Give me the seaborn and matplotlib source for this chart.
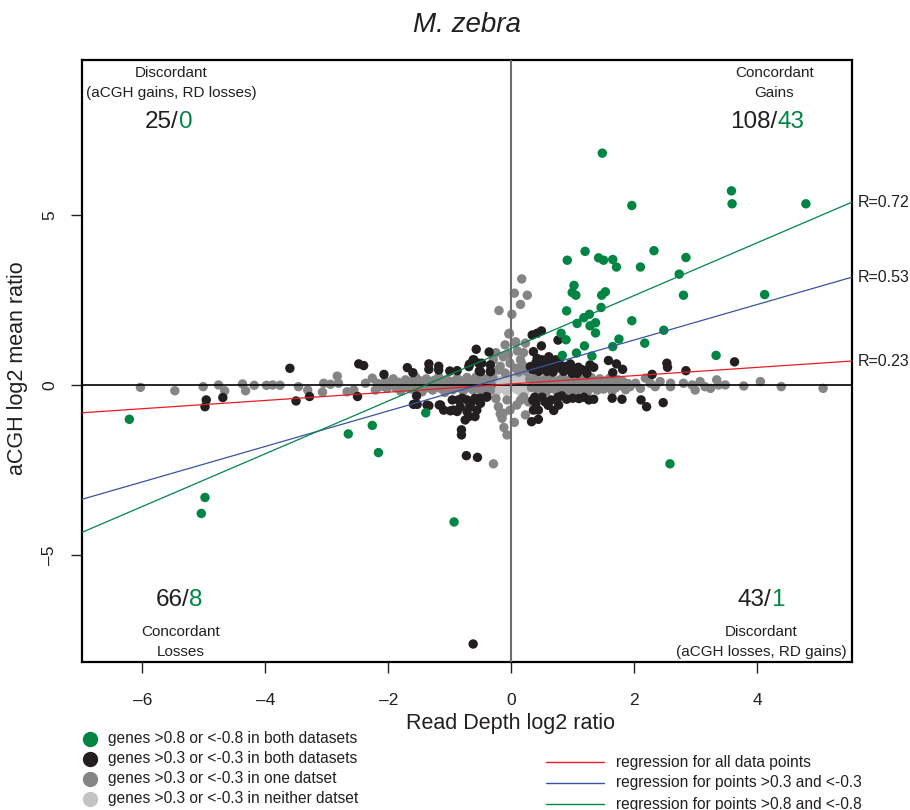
import numpy as np
import pandas as pd
import seaborn as sns
import matplotlib.pyplot as plt
from matplotlib.lines import Line2D
from matplotlib import transforms

sns.set_style("ticks")
plt.rcParams['font.family'] = ['Liberation Sans', 'DejaVu Sans']

# colours
green = "#008542"
black = "#231F20"
gray = "#858585"
lightgray = "#C4C4C4"

# genes >0.8 or <-0.8 in both datasets
green_x = [1.48, 3.58, 3.59, 4.79, 1.96, 0.91, 1.20, 1.42, 1.50, 1.65, 1.71, 2.10, 2.32, 2.84,
           2.73, 2.80, 4.12, 1.02, 0.99, 1.05, 1.47, 1.53, 1.46, 0.90, 1.27, 1.18, 1.07, 1.37,
           1.28, 1.37, 1.96, 2.48, 0.81, 0.89, 1.75, 2.17, 1.19, 1.65, 1.06, 0.83, 1.31, 3.33,
           -6.21, -4.98, -5.04, -2.65, -2.26, -2.16, -1.39, -0.93, 2.58]
green_y = [6.82, 5.71, 5.33, 5.33, 5.28, 3.67, 3.93, 3.74, 3.67, 3.69, 3.47, 3.47, 3.95, 3.75,
           3.26, 2.64, 2.66, 2.93, 2.72, 2.64, 2.64, 2.74, 2.28, 2.18, 2.08, 1.98, 1.81, 1.83,
           1.74, 1.53, 1.89, 1.61, 1.52, 1.33, 1.35, 1.23, 1.15, 1.13, 0.94, 0.87, 0.85, 0.87,
           -1.01, -3.31, -3.78, -1.44, -1.19, -1.99, -0.82, -4.03, -2.32]

# genes >0.3 or <-0.3 in both datasets
black_x = [-3.60, -2.48, -2.40, -2.07, -1.69, -1.60, -1.34, -1.34, -1.18, -1.18, -1.00, -0.88,
           -0.68, -0.62, -0.52, -0.48, -0.34, -0.57, -0.36, -0.61, -0.53, -0.69, -0.50, -0.34,
           -0.34,
           -4.96, -4.98, -4.69, -3.50, -3.28, -2.50, -1.54, -1.59, -1.34, -1.17, -0.99, -0.88,
           -0.81, -0.81, -1.53, -1.37, -1.15, -1.10, -0.96, -0.94, -0.86, -0.83, -0.72, -0.67,
           -0.59, -0.56, -0.50, -0.40, -0.75, -0.69, -0.59, -0.73, -0.55, -0.62, -0.80, -0.72,
           -0.59, -0.50, -0.40, -0.67,
           0.34, 0.42, 0.49, 0.76, 0.36, 0.49, 0.42, 0.50, 0.61, 0.72, 0.31, 0.39, 0.47, 0.55,
           0.63, 0.72, 0.80, 0.88, 0.96, 1.01, 1.09, 1.20, 1.28, 1.34, 0.99, 1.07, 1.23, 1.58,
           1.71, 1.65, 1.81, 2.29, 2.53, 2.54, 2.84, 3.63, 0.35, 0.45, 0.58, 0.68, 0.85, 0.93,
           1.15, 0.40, 0.55, 0.65, 0.78,
           0.38, 0.50, 0.65, 0.76, 0.82, 1.00, 1.18, 1.26, 1.34, 1.64, 1.80, 0.77, 0.69, 0.36,
           0.44, 0.33, 0.44, 2.11, 2.20, 2.47, 0.40, 0.55, 0.35, 0.60, 0.90, 1.10]
black_y = [0.49, 0.62, 0.57, 0.31, 0.51, 0.36, 0.62, 0.46, 0.55, 0.44, 0.41, 0.42,
           0.61, 0.74, 0.41, 0.64, 0.41, 1.05, 0.97, 0.74, 0.64, 0.54, 0.39, 0.59,
           0.39,
           -0.44, -0.64, -0.37, -0.47, -0.34, -0.34, -0.32, -0.57, -0.61, -0.59, -0.76, -0.78,
           -1.32, -1.47, -0.57, -0.59, -0.59, -0.74, -0.44, -0.74, -0.44, -0.64, -0.44, -0.64,
           -0.39, -0.74, -0.54, -0.36, -1.03, -0.93, -0.93, -2.08, -2.13, -7.62, -0.39, -0.78,
           -0.44, -0.39, -0.34, -0.59,
           1.47, 1.52, 1.59, 1.32, 0.98, 1.15, 0.78, 0.74, 0.83, 0.74, 0.54, 0.52, 0.56, 0.49,
           0.54, 0.56, 0.49, 0.54, 0.62, 0.46, 0.52, 0.42, 0.59, 0.52, 0.34, 0.34, 0.34, 0.72,
           0.62, 0.36, 0.46, 0.31, 0.64, 0.52, 0.42, 0.68, 0.45, 0.40, 0.40, 0.38, 0.40, 0.45,
           0.45, 0.65, 0.62, 0.66, 0.64,
           -0.36, -0.36, -0.44, -0.36, -0.32, -0.39, -0.36, -0.44, -0.42, -0.39, -0.42, -0.59,
           -0.75, -0.74, -0.74, -1.08, -1.01, -0.44, -0.64, -0.52, -0.55, -0.50, -0.45, -0.60,
           -0.42, -0.40]

# genes >0.3 or <-0.3 in one dataset
gray_x = [-6.03, -5.47, -5.01, -4.76, -4.66, -4.37, -4.32, -4.18, -3.98, -3.88, -3.76, -3.46,
          -3.31, -3.07, -3.05, -2.94, -2.83, -2.81, -2.67, -2.56, -2.37, -2.26, -2.21, -2.18,
          -2.13,
          -2.05, -2.02, -1.96, -1.92, -1.88, -1.84, -1.80, -1.76, -1.72, -1.70, -1.66, -1.62,
          -1.58, -1.55, -1.52, -1.48, -1.45, -1.42, -1.38, -1.35, -1.31, -1.28, -1.25, -1.22,
          -1.18, -1.15, -1.12, -1.08, -1.05, -1.02, -0.98, -0.95, -0.92, -0.88, -0.85, -0.82,
          -0.78, -0.75, -0.72, -0.70, -0.66, -0.63, -0.60, -0.57, -0.54, -0.51, -0.48, -0.45,
          -0.42, -0.40, -0.37, -0.34, -0.32, -0.30,
          0.17, 0.05, 0.26, 0.15, 0.01, -0.20, -0.03, -0.10, 0.07, 0.23, -0.13, -0.02, -0.29,
          -0.21, 0.07, 0.15, -0.13, -0.15, -0.02, -0.07, -0.29, 0.23, 0.09, -0.21, -0.07, 0.07,
          -0.04, -0.25, 0.20, 0.10, -0.18, 0.25, -0.10, 0.12, 0.20, -0.25, 0.15, -0.18, 0.05,
          -0.12, 0.28, 0.18, -0.05,
          0.30, 0.33, 0.37, 0.40, 0.43, 0.47, 0.50, 0.54, 0.57, 0.60, 0.64, 0.67, 0.70, 0.74,
          0.77, 0.80, 0.84, 0.87, 0.90, 0.94, 0.97, 1.00, 1.04, 1.07, 1.10, 1.14, 1.17, 1.20,
          1.24, 1.27, 1.30, 1.34, 1.37, 1.40, 1.44, 1.47, 1.50, 1.54, 1.57, 1.60, 1.64, 1.67,
          1.70, 1.74, 1.78, 1.82, 1.86, 1.90,
          1.93, 2.02, 2.10, 2.18, 2.26, 2.34, 2.42, 2.59, 2.59, 2.80, 2.94, 2.99, 3.07, 3.15,
          3.24, 3.34, 3.37, 3.48, 3.78, 4.05, 4.39, 5.07]
gray_y = [-0.07, -0.17, -0.05, 0.00, -0.17, 0.03, -0.17, -0.01, -0.01, 0.00, -0.01, -0.05,
          -0.15, -0.21, 0.05, 0.02, 0.26, 0.05, -0.20, -0.15, 0.05, 0.20, -0.15, 0.05,
          -0.05,
          0.12, -0.10, 0.02, 0.18, -0.08, 0.08, -0.18, 0.03, 0.15, -0.06, 0.10, -0.12,
          0.05, 0.22, -0.04, 0.12, -0.20, 0.00, 0.18, -0.08, 0.08, -0.15, 0.14, -0.02,
          0.24, -0.10, 0.06, -0.22, 0.16, -0.04, 0.10, -0.14, 0.02, 0.20, -0.08, 0.12,
          -0.18, 0.04, 0.22, -0.06, 0.14, -0.14, 0.02, 0.24, -0.10, 0.10, -0.22, 0.05,
          0.18, -0.06, 0.12, -0.16, 0.00, 0.22,
          3.12, 2.70, 2.64, 2.37, 2.08, 2.19, 1.52, 1.18, 1.25, 1.23, 0.83, 0.64, 0.74,
          0.44, 0.49, 0.74, -0.83, -0.98, -0.74, -1.47, -2.32, -0.88, -0.59, -0.64, -0.44, 1.27,
          1.50, 0.95, 0.95, 1.00, 0.55, 0.40, 0.35, 0.38, -0.35, -0.40, -0.45, -0.85, -1.10,
          -1.25, -0.50, 0.60, 0.90,
          0.18, -0.08, 0.05, 0.22, -0.15, 0.10, -0.04, 0.16, -0.20, 0.02, 0.20, -0.10, 0.08, -0.18,
          0.14, -0.02, 0.22, -0.12, 0.06, -0.22, 0.16, -0.05, 0.10, -0.16, 0.20, 0.00, -0.10, 0.12,
          -0.20, 0.05, 0.22, -0.08, 0.10, -0.15, 0.18, 0.00, -0.12, 0.12, -0.05, 0.20, -0.18, 0.06,
          -0.08, 0.15, -0.02, 0.10, -0.14, 0.04,
          -0.05, 0.05, -0.10, 0.20, 0.05, -0.05, 0.10, 0.05, -0.05, 0.05, 0.00, -0.15, 0.10, -0.05,
          -0.10, 0.15, 0.00, 0.00, -0.03, 0.10, -0.05, -0.10]

# genes >0.3 or <-0.3 in neither dataset
light_x = [-0.22, -0.18, -0.15, -0.10, -0.08, -0.05, 0.00, 0.05, 0.08, 0.12, 0.16, 0.20,
           0.24, -0.24, 0.22, -0.12, 0.02, 0.15]
light_y = [0.15, -0.10, 0.05, 0.20, -0.18, 0.08, -0.05, 0.18, -0.12, 0.04, 0.20, -0.08,
           0.10, -0.20, -0.22, -0.02, 0.22, -0.20]

# regression lines (slope, intercept, R)
reg_names = ["regression for all data points",
             "regression for points >0.3 and <-0.3",
             "regression for points >0.8 and <-0.8"]
reg_slope = [0.1216, 0.522, 0.776]
reg_icept = [0.031, 0.28, 1.08]
reg_r = ["R=0.23", "R=0.53", "R=0.72"]
reg_colors = ["#ED1C24", "#3953A4", "#00854A"]

groups = ["neither", "one", "both", "both08"]
group_labels = ["genes >0.8 or <-0.8 in both datasets",
                "genes >0.3 or <-0.3 in both datasets",
                "genes >0.3 or <-0.3 in one datset",
                "genes >0.3 or <-0.3 in neither datset"]
palette = {"neither": lightgray, "one": gray, "both": black, "both08": green}

df = pd.concat([
    pd.DataFrame({"x": light_x, "y": light_y, "group": "neither"}),
    pd.DataFrame({"x": gray_x, "y": gray_y, "group": "one"}),
    pd.DataFrame({"x": black_x, "y": black_y, "group": "both"}),
    pd.DataFrame({"x": green_x, "y": green_y, "group": "both08"}),
], ignore_index=True)

fig = plt.figure(figsize=(9.1, 8.1), dpi=100)
ax = fig.add_axes([82/910, 1 - 662/810, 770/910, 602/810])

sns.scatterplot(data=df, x="x", y="y", hue="group", hue_order=groups, palette=palette,
                s=46, linewidth=0, alpha=1, legend=False, ax=ax, zorder=2)

ax.axhline(0, color="black", lw=1.2, zorder=3)
ax.axvline(0, color="#6D6E70", lw=1.5, zorder=3)

for m, b, c in zip(reg_slope, reg_icept, reg_colors):
    ax.axline((0, b), slope=m, color=c, lw=0.9, zorder=4)

ax.set_xlim(-6.98, 5.54)
ax.set_ylim(-8.15, 9.56)
ax.set_xticks([-6, -4, -2, 0, 2, 4])
ax.set_xticklabels(["\u20136", "\u20134", "\u20132", "0", "2", "4"])
ax.set_yticks([-5, 0, 5])
ax.set_yticklabels(["\u20135", "0", "5"], rotation=90, va="center")
ax.tick_params(direction="out", length=8, width=1, labelsize=12.5, pad=10, colors=black)
ax.tick_params(axis="x", pad=14)
for s in ax.spines.values():
    s.set_linewidth(1.6)
    s.set_color("black")

ax.set_xlabel("Read Depth log2 ratio", fontsize=15.5, color=black)
ax.xaxis.set_label_coords(0.556, -0.085)
ax.set_ylabel("aCGH log2 mean ratio", fontsize=15.5, color=black)
ax.yaxis.set_label_coords(-0.07, 0.488)
ax.set_title("M. zebra", fontsize=20, style="italic", pad=20, color=black)

# quadrant labels
tsz = 11
ax.text(-5.53, 9.18, "Discordant", ha="center", va="center", fontsize=tsz, color=black)
ax.text(-5.53, 8.59, "(aCGH gains, RD losses)", ha="center", va="center", fontsize=tsz, color=black)
ax.text(4.28, 9.18, "Concordant", ha="center", va="center", fontsize=tsz, color=black)
ax.text(4.28, 8.59, "Gains", ha="center", va="center", fontsize=tsz, color=black)
ax.text(-5.37, -7.26, "Concordant", ha="center", va="center", fontsize=tsz, color=black)
ax.text(-5.37, -7.85, "Losses", ha="center", va="center", fontsize=tsz, color=black)
ax.text(4.06, -7.26, "Discordant", ha="center", va="center", fontsize=tsz, color=black)
ax.text(4.06, -7.85, "(aCGH losses, RD gains)", ha="center", va="center", fontsize=tsz, color=black)

counts = [(-5.41, 7.74, "25/", "0"), (4.33, 7.74, "108/", "43"),
          (-5.24, -6.32, "66/", "8"), (4.23, -6.32, "43/", "1")]
for cx, cy, a, b in counts:
    ax.text(cx, cy, a, ha="right", va="center", fontsize=17.5, color=black)
    ax.text(cx, cy, b, ha="left", va="center", fontsize=17.5, color=green)

# R values to the right of the plot
tr = transforms.blended_transform_factory(ax.transAxes, ax.transData)
for m, b, r in zip(reg_slope, reg_icept, reg_r):
    ax.text(1.008, m * 5.54 + b, r, transform=tr, ha="left", va="center",
            fontsize=11.5, color=black, clip_on=False)

# legends drawn in figure coordinates
leg_colors = [green, black, gray, lightgray]
for i, (lab, c) in enumerate(zip(group_labels, leg_colors)):
    yy = 1 - (739 + 20 * i) / 810
    fig.add_artist(Line2D([90/910], [yy], marker="o", color=c, markersize=10,
                          transform=fig.transFigure, linestyle="none"))
    fig.text(108/910, yy, lab, ha="left", va="center", fontsize=11.2, color=black)

for i, (lab, c) in enumerate(zip(reg_names, reg_colors)):
    yy = 1 - (762 + 21 * i) / 810
    fig.add_artist(Line2D([546/910, 604/910], [yy, yy], color=c, lw=1,
                          transform=fig.transFigure))
    fig.text(616/910, yy, lab, ha="left", va="center", fontsize=11.2, color=black)

fig.savefig("out.png", dpi=100)
